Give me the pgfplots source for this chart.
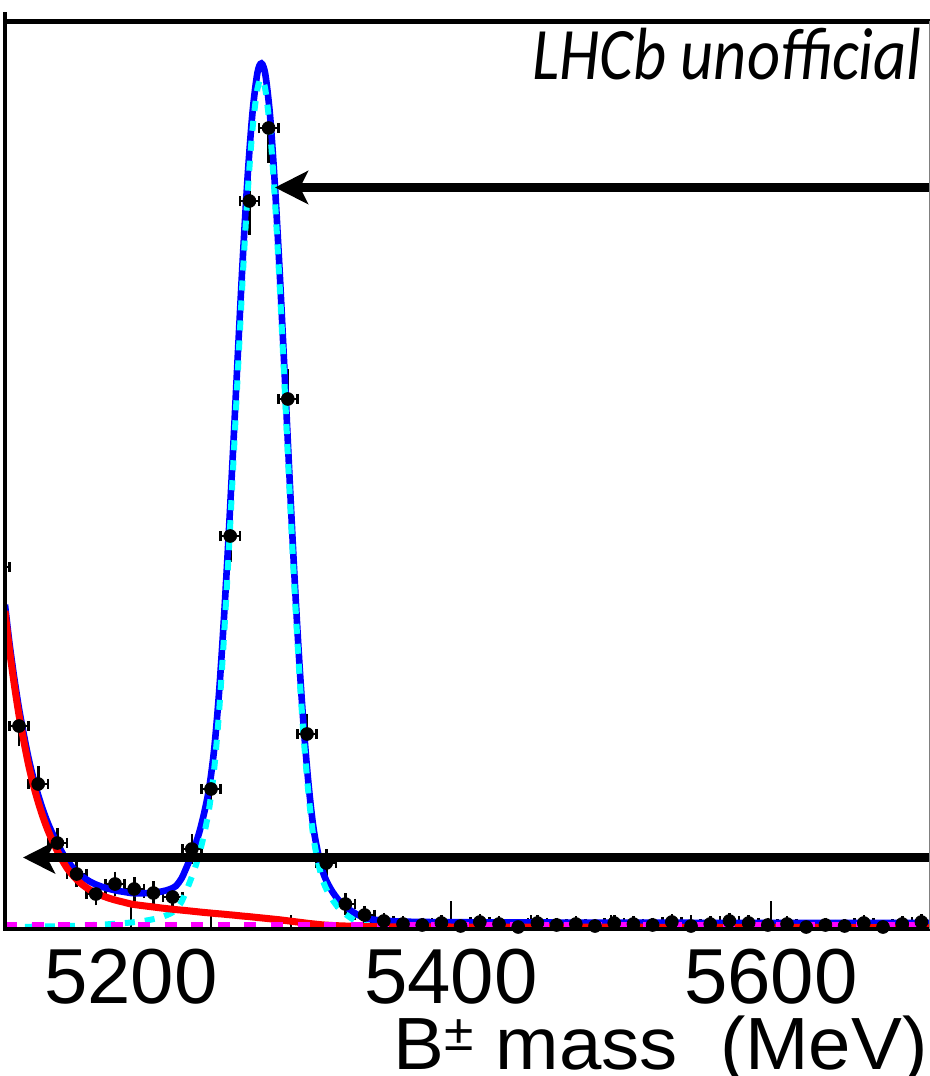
\documentclass[border=0pt]{standalone}
\usepackage{fontspec}
\setmainfont{Liberation Sans}
\newfontfamily\lhcbfont{Carlito}
\usepackage{graphicx}
\usepackage{pgfplots}
\pgfplotsset{compat=1.18}
\usepackage{pgfplotstable}
\usetikzlibrary{arrows.meta}

\pgfplotstableread{
x y ex ey
5118 362 6 20.1
5130 203 6 15.1
5142 145 6 12.7
5154 86 6 9.8
5166 55 6 7.8
5178 35 6 6.3
5190 45 6 7.1
5202 40 6 6.7
5214 36 6 6.3
5226 32 6 6.0
5238 80 6 9.5
5250 140 6 12.5
5262 393 6 21.0
5274 728 6 28.6
5286 801 6 30.0
5298 530 6 24.4
5310 195 6 14.8
5322 66 6 8.6
5334 25 6 5.3
5346 14 6 4.0
5358 8 6 3.0
5370 5 6 2.4
5382 4 6 2.1
5394 6 6 2.6
5406 3 6 1.8
5418 7 6 2.8
5430 5 6 2.4
5442 2 6 1.5
5454 6 6 2.6
5466 4 6 2.1
5478 5 6 2.4
5490 3 6 1.8
5502 6 6 2.6
5514 5 6 2.4
5526 4 6 2.1
5538 7 6 2.8
5550 3 6 1.8
5562 5 6 2.4
5574 8 6 3.0
5586 6 6 2.6
5598 4 6 2.1
5610 5 6 2.4
5622 2 6 1.5
5634 4 6 2.1
5646 3 6 1.8
5658 6 6 2.6
5670 2 6 1.5
5682 5 6 2.4
5694 7 6 2.8
}\datatable

\pgfplotstableread{
x total signal bkg
5121.25 324.3 1.8 318
5124 286.4 1.9 280
5127 251.5 2.0 245
5130 220.55 2.05 214
5133 194.6 2.1 188
5136 170.7 2.2 164
5139 150.8 2.3 144
5142 133.9 2.4 127
5145 119 2.5 112
5148 106.1 2.6 99
5151 95.2 2.7 88
5154 85.3 2.8 78
5157 76.4 2.9 69
5160 68.5 3.0 61
5164 60.7 3.2 53
5168 54.4 3.4 46.5
5172 49.7 3.7 41.5
5176 46 4.0 37.5
5180 43.3 4.3 34.5
5185 40.7 4.7 31.5
5190 38.7 5.2 29
5195 37.3 5.8 27
5200 36 6.5 25
5205 35.7 7.4 23.8
5210 35.9 8.6 22.8
5215 36.5 10.2 21.8
5220 37.8 12.5 20.8
5224 39.6 15 20.1
5228 42.9 19 19.4
5231.5 50.4 27 18.9
5234 59 36 18.5
5237 70.5 48 18.0
5240 83 61 17.5
5243 98.5 77 17.0
5246 118 97 16.5
5249 142.6 122 16.1
5252 180.1 160 15.6
5255 235.7 216 15.2
5258 308.3 289 14.8
5261 392.8 374 14.3
5264 485.4 467 13.9
5267 581.9 564 13.4
5270 674.4 657 12.9
5273 755 738 12.5
5276 817.5 801 12.0
5279 856 840 11.5
5281.5 865.6 850 11.1
5284 854.2 839 10.7
5287 811.7 797 10.2
5290 742.2 728 9.7
5293 654.7 641 9.2
5296 556.1 543 8.6
5299 454.5 442 8.0
5302 357.9 346 7.4
5305 272.3 261 6.8
5308 200.7 190 6.2
5311 144.1 134 5.6
5314 101.6 92 5.1
5317 75.1 66 4.6
5320 56.6 48 4.1
5323 45.3 37 3.8
5326 37 29 3.5
5329 30.3 22.5 3.3
5332 25.1 17.5 3.1
5336 19.9 12.5 2.9
5340 15.7 8.5 2.7
5344 12.55 5.5 2.55
5349 9.9 3 2.4
5360 8.15 1.4 2.25
5375 7.2 0.6 2.1
5400 6.8 0.3 2.0
5450 6.5 0.1 1.9
5500 6.35 0.05 1.8
5550 6.2 0 1.7
5600 6.1 0 1.6
5650 6.0 0 1.5
5698.75 6.0 0 1.5
}\curvetable

\begin{document}
\begin{tikzpicture}
\begin{axis}[
  name=ax,
  scale only axis,
  width=462pt, height=453.75pt,
  xmin=5121.25, xmax=5698.75,
  ymin=0, ymax=907.5,
  axis line style={draw=none},
  ytick=\empty,
  xtick={5200,5400,5600},
  xticklabels={5200,5400,5600},
  minor x tick num=3,
  xtick pos=left,
  xtick align=inside,
  major tick length=14pt,
  minor tick length=7pt,
  tick style={black, line width=1pt},
  xticklabel style={font=\fontsize{39}{39}\selectfont, inner sep=0pt, yshift=-10pt},
]
\coordinate (SW) at (rel axis cs:0,0);
\coordinate (SE) at (rel axis cs:1,0);
\coordinate (NW) at (rel axis cs:0,1);
\coordinate (NE) at (rel axis cs:1,1);

% horizontal (bin width) error bars with vertical end caps
\addplot[black, only marks, mark=none,
  error bars/.cd, x dir=both, x explicit,
  error bar style={line width=1.3pt, black},
  error mark=|,
  error mark options={line width=1.3pt, mark size=2.6pt, black}]
  table[x=x, y=y, x error=ex] {\datatable};
% vertical (statistical) error bars with horizontal end caps, and the points
\addplot[black, only marks, mark=*, mark size=3.2pt,
  error bars/.cd, y dir=both, y explicit,
  error bar style={line width=1.3pt, black},
  error mark=-,
  error mark options={line width=1.3pt, mark size=2.6pt, black}]
  table[x=x, y=y, y error=ey] {\datatable};

\addplot[color={rgb,255:red,0;green,0;blue,255}, line width=3.3pt, smooth] table[x=x, y=total] {\curvetable};
\addplot[color={rgb,255:red,0;green,255;blue,255}, line width=3pt, smooth, dash pattern=on 5pt off 5pt] table[x=x, y=signal] {\curvetable};
\addplot[color={rgb,255:red,255;green,0;blue,0}, line width=3.5pt, smooth] table[x=x, y=bkg] {\curvetable};
\addplot[color={rgb,255:red,255;green,0;blue,255}, line width=2.5pt, dash pattern=on 6pt off 7.3pt] coordinates {(5121.25,4.5) (5698.75,4.5)};

\draw[line width=4.25pt, -{Stealth[length=16.5pt, width=16.5pt, inset=4pt]}] (axis cs:5698.75,741.5) -- (axis cs:5290,741.5);
\draw[line width=4.25pt, -{Stealth[length=16pt, width=16pt, inset=4pt]}] (axis cs:5698.75,71.5) -- (axis cs:5132.5,71.5);
\end{axis}

\draw[line width=1.7pt] ([yshift=4.5pt]NW) -- (SW);
\draw[line width=2.2pt] (NW) -- ([xshift=1pt]NE);
\draw[line width=2pt] ([xshift=-0.85pt]SW) -- ([xshift=1pt]SE);
\draw[gray, line width=0.5pt] (NE) -- (SE);

\node[anchor=base east, inner sep=0pt] at ([xshift=-3.5pt, yshift=-29.25pt]NE)
  {\lhcbfont\itshape\fontsize{37}{37}\selectfont\scalebox{0.87}[1]{LHCb unofficial}};
\node[anchor=base east, inner sep=0pt, font=\fontsize{37}{37}\selectfont] at ([xshift=-0.5pt, yshift=-70pt]SE)
  {\scalebox{1.03}[1]{B\textsuperscript{±} mass\ \ (MeV)}};

\pgfresetboundingbox
\useasboundingbox ([xshift=-2.5pt, yshift=-73.5pt]SW) rectangle ([xshift=0.5pt, yshift=10.75pt]NE);
\end{tikzpicture}
\end{document}
